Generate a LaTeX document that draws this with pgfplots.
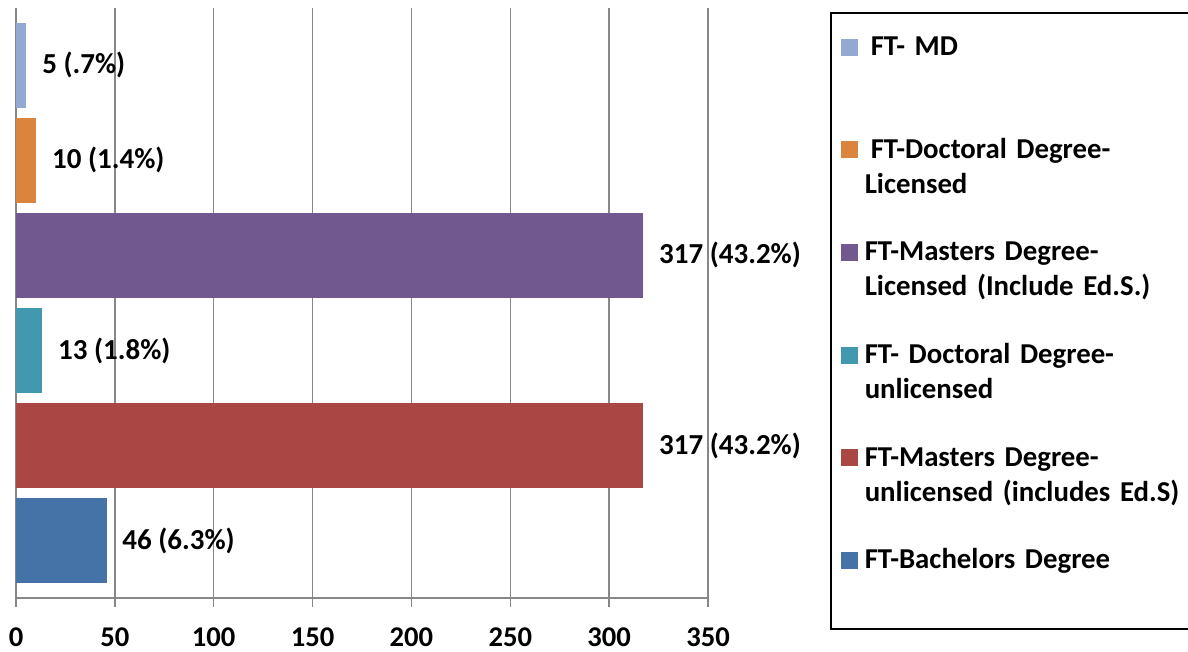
\documentclass[border=0pt]{standalone}
\usepackage{fontspec}
\setmainfont{Carlito}
\usepackage{pgfplots}
\pgfplotsset{compat=1.18}
\definecolor{cMD}{HTML}{93A9D1}
\definecolor{cDL}{HTML}{DB843D}
\definecolor{cML}{HTML}{71588F}
\definecolor{cDU}{HTML}{4198AF}
\definecolor{cMU}{HTML}{AA4643}
\definecolor{cBA}{HTML}{4572A7}
\definecolor{gridgray}{HTML}{878787}
\begin{document}
\begin{tikzpicture}
\path[use as bounding box] (0,0) rectangle (594pt,326pt);
\begin{axis}[
  at={(8pt,27pt)}, anchor=south west,
  scale only axis, width=346pt, height=295pt,
  xbar, clip=false,
  xmin=0, xmax=350, ymin=-0.6, ymax=5.6,
  axis x line*=bottom, axis y line*=left,
  axis line style={draw=gridgray, line width=0.75pt},
  xtick={0,50,100,150,200,250,300,350},
  xticklabels={0,50,100,150,200,250,300,350},
  ytick=\empty,
  xmajorgrids, grid style={draw=gridgray, line width=0.75pt},
  tick align=outside, major tick length=4.5pt,
  xtick style={draw=gridgray, line width=0.75pt},
  xticklabel style={font=\bfseries\fontsize{14.3}{17}\selectfont, inner sep=0pt, yshift=-10pt},
  bar width=42.5pt,
  nodes near coords style={font=\bfseries\fontsize{14.5}{17}\selectfont, inner sep=0pt, text=black, anchor=west},
  legend style={at={(1.1763,0.9932)}, anchor=north west, draw=black, line width=0.75pt,
    inner xsep=5pt, inner ysep=10pt, row sep=19.8pt,
    font=\bfseries\fontsize{14.4}{17.5}\selectfont,
    cells={anchor=base west},
    nodes={text width=158pt, align=left, text height=11.5pt, text depth=20pt, inner sep=0pt},
    /tikz/every odd column/.append style={column sep=3.5pt}},
  legend image code/.code={\fill[#1] (0pt,0pt) rectangle (8.5pt,8.5pt);},
  reverse legend,
]
\addplot[fill=cBA, draw=none, bar shift=0pt, nodes near coords={46 (6.3\%)}, every node near coord/.append style={xshift=7.5pt}] coordinates {(46,0)};
\addlegendentry{FT-Bachelors Degree}
\addplot[fill=cMU, draw=none, bar shift=0pt, nodes near coords={317 (43.2\%)}, every node near coord/.append style={xshift=8pt}] coordinates {(317,1)};
\addlegendentry{FT-Masters Degree-\newline unlicensed (includes Ed.S)}
\addplot[fill=cDU, draw=none, bar shift=0pt, nodes near coords={13 (1.8\%)}, every node near coord/.append style={xshift=8pt}] coordinates {(13,2)};
\addlegendentry{FT- Doctoral Degree-\newline unlicensed}
\addplot[fill=cML, draw=none, bar shift=0pt, nodes near coords={317 (43.2\%)}, every node near coord/.append style={xshift=8pt}] coordinates {(317,3)};
\addlegendentry{FT-Masters Degree-\newline Licensed (Include Ed.S.)}
\addplot[fill=cDL, draw=none, bar shift=0pt, nodes near coords={10 (1.4\%)}, every node near coord/.append style={xshift=8pt}] coordinates {(10,4)};
\addlegendentry{\hspace*{3pt}FT-Doctoral Degree-\newline Licensed}
\addplot[fill=cMD, draw=none, bar shift=0pt, nodes near coords={5 (.7\%)}, every node near coord/.append style={xshift=8pt}] coordinates {(5,5)};
\addlegendentry{\hspace*{3pt}FT- MD}
\end{axis}
\end{tikzpicture}
\end{document}
